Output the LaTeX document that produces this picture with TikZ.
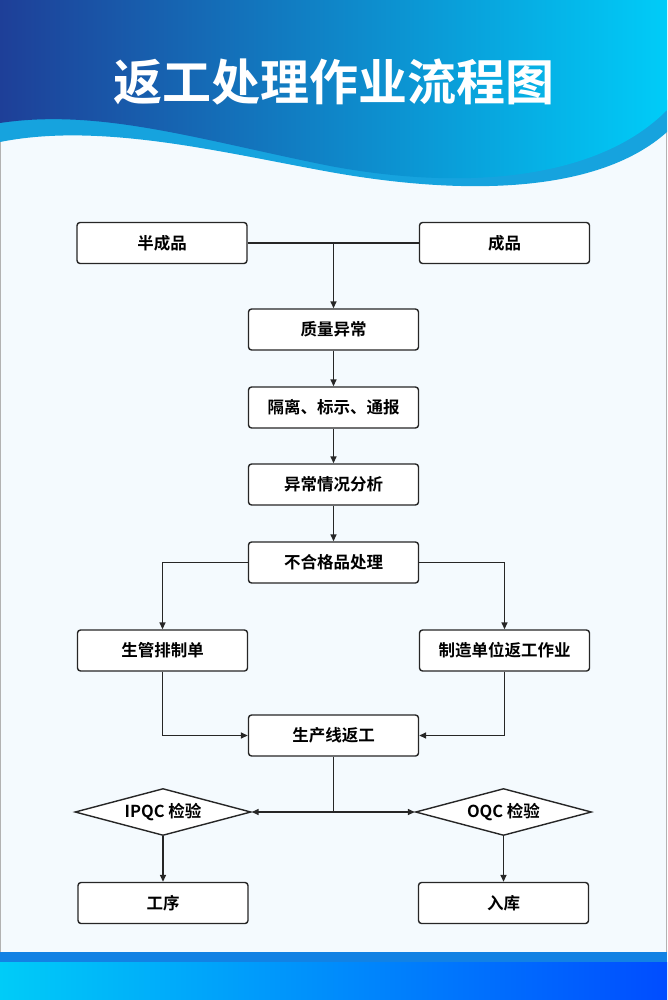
\documentclass[tikz,border=0pt]{standalone}
\usepackage{fontspec}
\setmainfont{Noto Sans CJK SC}[BoldFont={* Bold}]
\usetikzlibrary{shapes.geometric,arrows.meta}
\definecolor{dblue}{HTML}{1E3F98}
\definecolor{cyanr}{HTML}{00CCF8}
\definecolor{lband}{HTML}{16A3DE}
\definecolor{bgc}{HTML}{F4FAFE}
\begin{document}
\begin{tikzpicture}[x=1pt,y=-1pt,
  box/.style={draw=black!85,line width=1.4pt,rounded corners=3pt,fill=white,minimum width=170pt,minimum height=41pt,font=\bfseries\fontsize{16.5}{18}\selectfont,inner sep=0pt},
  dia/.style={draw=black!85,line width=1.4pt,diamond,aspect=3.75,fill=white,minimum width=176pt,minimum height=47pt,font=\bfseries\fontsize{16.5}{18}\selectfont,inner sep=0pt},
  conn/.style={line width=1.5pt,draw=black!85},
  arr/.style={conn,-{Triangle[length=7pt,width=6pt]}}]
\useasboundingbox (0,0) rectangle (667,1000);
\fill[bgc] (0,0) rectangle (667,1000);
\draw[gray!60] (0.5,0.5) rectangle (666.5,999.5);
% header
\fill[lband] (0,100) -- (667,100) -- (667,132) .. controls (600,192) and (470,197) .. (330,172) .. controls (220,152) and (100,122) .. (0,142) -- cycle;
\shade[left color=dblue,right color=cyanr] (0,0) -- (667,0) -- (667,110)
  .. controls (600,178) and (470,192) .. (330,166) .. controls (200,140) and (100,108) .. (0,123) -- cycle;
\node[text=white,font=\bfseries\fontsize{49}{52}\selectfont] (title) at (333.5,82) {返工处理作业流程图};
% footer
\fill[lband!80!blue] (0,952) rectangle (667,962);
\shade[left color=cyanr,right color=blue!70!cyan] (0,962) rectangle (667,1000);
% nodes
\node[box] (a) at (162,243) {半成品};
\node[box] (b) at (504.5,243) {成品};
\node[box] (c) at (333.5,329.5) {质量异常};
\node[box] (d) at (333.5,407.5) {隔离、标示、通报};
\node[box] (e) at (333.5,484.5) {异常情况分析};
\node[box] (f) at (333.5,562.5) {不合格品处理};
\node[box] (g) at (162.5,650.5) {生管排制单};
\node[box] (h) at (504.5,650.5) {制造单位返工作业};
\node[box] (i) at (333.5,735.5) {生产线返工};
\node[dia] (j) at (163,812) {IPQC\ 检验};
\node[dia] (k) at (503.5,812) {OQC\ 检验};
\node[box] (l) at (163,903) {工序};
\node[box] (m) at (503.5,903) {入库};
\coordinate (jn) at (333.5,243);
\coordinate (jq) at (333.5,812);
% connectors
\draw[conn] (a.east) -- (b.west);
\draw[arr] (jn) -- (c.north);
\draw[arr] (c) -- (d);
\draw[arr] (d) -- (e);
\draw[arr] (e) -- (f);
\draw[arr] (f.west) -| (g.north);
\draw[arr] (f.east) -| (h.north);
\draw[arr] (g.south) |- (i.west);
\draw[arr] (h.south) |- (i.east);
\draw[conn] (i.south) -- (jq);
\draw[arr] (jq) -- (j.east);
\draw[arr] (jq) -- (k.west);
\draw[arr] (j.south) -- (l.north);
\draw[arr] (k.south) -- (m.north);
\end{tikzpicture}
\end{document}
